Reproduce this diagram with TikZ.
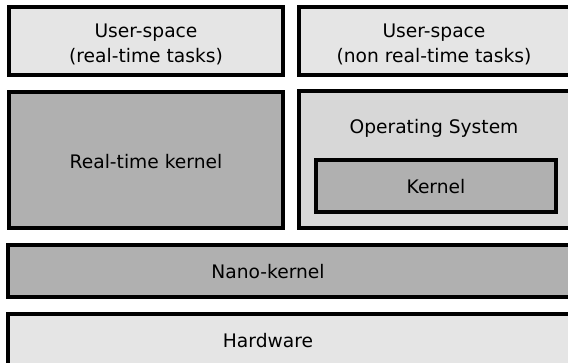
\documentclass[tikz,border=0pt]{standalone}
\usepackage{fontspec}
\setmainfont{DejaVu Sans}
\definecolor{lightgray}{HTML}{E5E5E5}
\definecolor{osgray}{HTML}{D7D7D7}
\definecolor{midgray}{HTML}{B0B0B0}
\begin{document}
\begin{tikzpicture}[x=0.75pt, y=-0.75pt,
	layer/.style={draw=black, line width=2.3pt},
	label/.style={anchor=base, align=center, font=\fontsize{14}{18.75}\selectfont, inner sep=0pt}]
	\useasboundingbox (0,0) rectangle (568,362);
	\clip (0,0) rectangle (568,362);

	% user-space
	\filldraw [layer, fill=lightgray] (9,7) rectangle (283,75);
	\filldraw [layer, fill=lightgray] (299,7) rectangle (600,75);
	\node[label] (usrt) at (146,62) {User-space\\(real-time tasks)};
	\node[label] (usnrt) at (434,62) {User-space\\(non real-time tasks)};

	% kernels
	\filldraw [layer, fill=midgray] (9,92) rectangle (283,228);
	\node[label] (rtk) at (146,168) {Real-time kernel};
	\filldraw [layer, fill=osgray] (299,91) rectangle (600,228);
	\node[label] (os) at (434,133) {Operating System};
	\filldraw [layer, fill=midgray] (316,160) rectangle (556,212);
	\node[label] (kern) at (436,193) {Kernel};

	% nano-kernel e hardware
	\filldraw [layer, fill=midgray] (8,245) rectangle (600,297);
	\node[label] (nano) at (268,278) {Nano-kernel};
	\filldraw [layer, fill=lightgray] (8,314) rectangle (600,400);
	\node[label] (hw) at (268,347) {Hardware};
\end{tikzpicture}
\end{document}
